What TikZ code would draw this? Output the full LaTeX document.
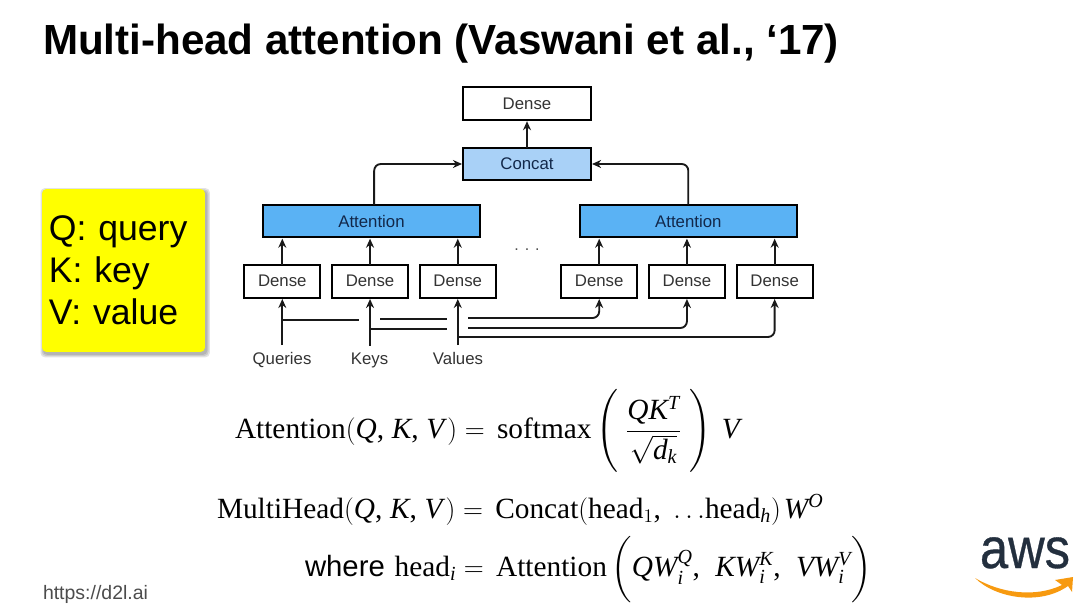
\documentclass[tikz,border=0pt]{standalone}
\usepackage{amsmath}
\usepackage{fontspec}
\setmainfont{Liberation Serif}
\setsansfont{Liberation Sans}
\newfontfamily\awsfont[FakeBold=.6]{Liberation Sans}
\usepackage[italic]{mathastext}
\DeclareMathSizes{22}{22}{15}{11}
\usetikzlibrary{
  positioning,
  shadows,
  arrows.meta
}
\definecolor{attblue}{HTML}{5AB2F4}
\definecolor{catblue}{HTML}{A9D1F7}
\definecolor{inkblue}{HTML}{12284A}
\definecolor{awsink}{HTML}{232F3E}
\definecolor{awsorange}{HTML}{F79A10}
\definecolor{notebox}{HTML}{FFFF00}
\newcommand{\qkv}{(Q,\mskip2mu K,\mskip2mu V\mskip2mu)}

\begin{document}
\begin{tikzpicture}[x=.75pt,y=-.75pt,>={Stealth[length=6.8pt,width=6pt]},
  every node/.style={font=\sffamily\fontsize{12.6}{15}\selectfont,outer sep=0pt,inner sep=0pt},
  wire/.style={line width=1.4pt,black!90},
  dense/.style={draw,line width=1.4pt,fill=white,text=black!80,minimum width=57pt,minimum height=24.5pt},
  attn/.style={draw,line width=1.4pt,fill=attblue,text=inkblue,minimum width=163pt,minimum height=24.5pt},
  tag/.style={anchor=base,text=black!80},
  eqn/.style={anchor=base west,font=\rmfamily\fontsize{22}{26}\selectfont},
  soft/.style={general shadow={fill=black,opacity=.11,shadow xshift=1.2pt,shadow yshift=-1.6pt,shadow scale=#1}}]
\useasboundingbox (0,0) rectangle (1080,605);

\node[anchor=base west,font=\sffamily\bfseries\fontsize{31.6}{36}\selectfont] (title) at (43,55) {Multi-head attention (Vaswani et al., ‘17)};

\node[draw=none,fill=notebox,rounded corners=3pt,minimum width=122pt,minimum height=122pt,
  text width=112pt,align=left,font=\sffamily\fontsize{26.7}{31.5}\selectfont,
  soft=1.04,soft=1.025,soft=1.01] (legend) at (123.5,270.5) {Q: query\\K: key\\V: value};

% upper part
\node[dense,minimum width=95.5pt] (top) at (527,103.5) {Dense};
\node[dense,minimum width=95.5pt,fill=catblue,text=inkblue] (concat) at (527,164) {Concat};
\node[attn] (al) at (371.5,221) {Attention};
\node[attn] (ar) at (688.3,221) {Attention};
\node[text=black!70,font=\sffamily\fontsize{12}{15}\selectfont] (dots) at (527,250) {. . .};

% dense row
\node[dense] (dq1) at (282.3,281.3) {Dense};
\node[dense,right=8.8pt of dq1] (dk1) {Dense};
\node[dense,right=8.8pt of dk1] (dv1) {Dense};
\node[dense] (dq2) at (599.2,281.3) {Dense};
\node[dense,right=8.8pt of dq2] (dk2) {Dense};
\node[dense,right=8.8pt of dk2] (dv2) {Dense};

\node[tag] (queries) at (282,364) {Queries};
\node[tag] (keys) at (369.5,364) {Keys};
\node[tag] (values) at (458,364) {Values};

\draw[wire,->,shorten >=1pt] (concat) -- (top);
\draw[wire,->,rounded corners=5pt,shorten >=1pt] ([xshift=2pt]al.north) |- (concat.west);
\draw[wire,->,rounded corners=5pt,shorten >=1pt] (ar.north) |- (concat.east);
\foreach \d in {dq1,dk1,dv1} \draw[wire,->,shorten >=1pt] (\d.north) -- (\d.north |- al.south);
\foreach \d in {dq2,dk2,dv2} \draw[wire,->,shorten >=1pt] (\d.north) -- (\d.north |- ar.south);
\draw[wire,->,shorten >=1pt,shorten <=5pt] (dq1.south |- queries.north) -- (dq1.south);
\draw[wire,->,shorten >=1pt,shorten <=5pt] (dk1.south |- keys.north) -- (dk1.south);
\draw[wire,->,shorten >=1pt,shorten <=5pt] (dv1.south |- values.north) -- (dv1.south);

% branches with gaps where they cross
\coordinate (qa) at (dq1.south |- 0,320);
\coordinate (qb) at (359,320);
\coordinate (qc) at (380,319);
\coordinate (qd) at (447,319);
\coordinate (qe) at (468,318);
\coordinate (ka) at (dk1.south |- 0,329);
\coordinate (kb) at (447,329);
\coordinate (kc) at (468,328);
\coordinate (va) at (dv1.south |- 0,337);
\draw[wire] (qa) -- (qb);
\draw[wire] (qc) -- (qd);
\draw[wire,->,rounded corners=5pt,shorten >=1pt] (qe) -| (dq2.south);
\draw[wire] (ka) -- (kb);
\draw[wire,->,rounded corners=5pt,shorten >=1pt] (kc) -| (dk2.south);
\draw[wire,->,rounded corners=5pt,shorten >=1pt] (va) -| (dv2.south);

% formulas
\node[eqn] (eqa) at (235,438) {$\mathrm{Attention}\qkv=\mskip3mu\mathrm{softmax}\mskip3mu\Biggl(\mskip5mu\dfrac{QK^{T}}{\sqrt{d_k}}\mskip5mu\Biggr)\mskip7mu V$};
\node[eqn] (eqb) at (217,518) {$\mathrm{MultiHead}\qkv=\mskip3mu\mathrm{Concat}(\mathrm{head}_1,\;\mathrm{\ldots}\mathrm{head}_h)\mskip2mu W^{O}$};
\node[eqn] (eqc) at (305,576) {\textsf{where}\,\,$\mathrm{head}_i=\mskip3mu\mathrm{Attention}\mskip3mu\biggl(QW_i^{Q},\mskip7mu KW_i^{K},\mskip7mu VW_i^{V}\biggr)$};

\node[anchor=base west,text=black!70,font=\sffamily\fontsize{14.6}{17}\selectfont] (url) at (43,599) {https://d2l.ai};

% logo
\node[anchor=base,text=awsink,font=\awsfont\fontsize{38}{40}\selectfont,yscale=1.13,transform shape] (aws) at (1025,568) {aws};
\fill[awsorange] (975,578) .. controls (1000,593) and (1035,598) .. (1062,585)
  -- (1055,580) -- (1073,577) -- (1072,592) -- (1068,586)
  .. controls (1040,606) and (995,598) .. (975,578) -- cycle;
\end{tikzpicture}
\end{document}
